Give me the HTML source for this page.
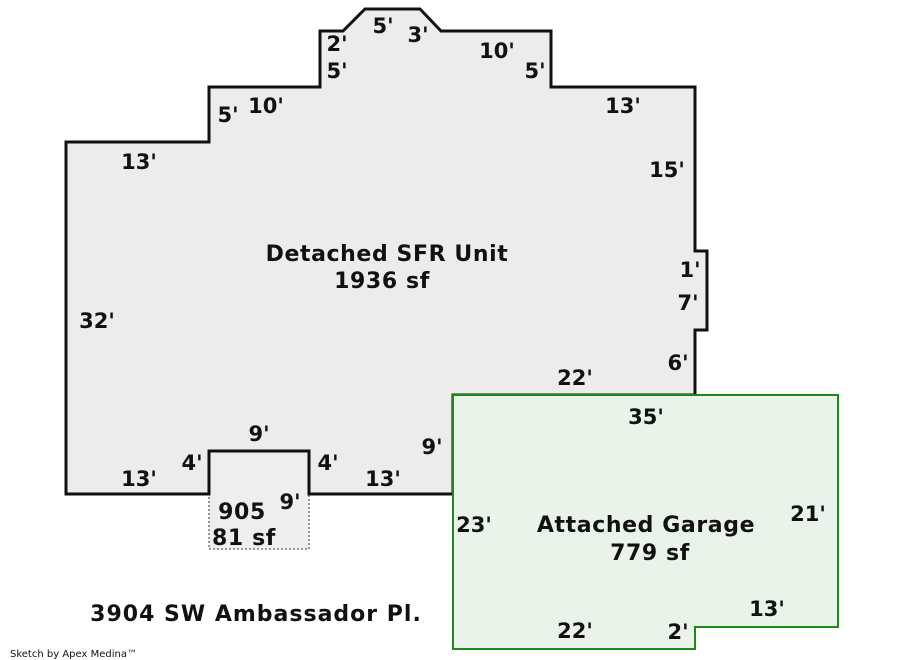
<!DOCTYPE html>
<html><head><meta charset="utf-8"><style>
html,body{margin:0;padding:0;background:#fff;}
svg{display:block}
text{font-family:"DejaVu Sans","Liberation Sans",sans-serif;font-weight:bold;font-size:21px;fill:#111;text-anchor:middle}
.big{font-size:22px;letter-spacing:0.6px}
</style></head><body>
<svg width="900" height="660" viewBox="0 0 900 660">
<rect x="209" y="451" width="100" height="98" fill="#eeeeee" stroke="#777" stroke-width="1.5" stroke-dasharray="2,2"/>
<polygon points="66,142 209,142 209,87 320,87 320,31 343,31 365,9 420,9 441,31 551,31 551,87 695,87 695,251 707,251 707,330 695,330 695,395 453,395 453,494 309,494 309,451 209,451 209,494 66,494" fill="#ececec" stroke="#111" stroke-width="3"/>
<polygon points="453,395 838,395 838,627 695,627 695,649 453,649" fill="#eaf3ea" stroke="#1a8a1a" stroke-width="2"/>
<text class="big" x="387" y="261">Detached SFR Unit</text>
<text class="big" x="382" y="288">1936 sf</text>
<text class="big" x="646" y="532">Attached Garage</text>
<text class="big" x="650" y="560">779 sf</text>
<text class="big" x="242" y="519">905</text>
<text class="big" x="244" y="545">81 sf</text>
<text x="256" y="621" style="font-size:22px;letter-spacing:1px">3904 SW Ambassador Pl.</text>
<text x="10" y="657" style="font-size:10px;font-weight:normal;text-anchor:start">Sketch by Apex Medina™</text>
<text x="383" y="33">5'</text>
<text x="418" y="42">3'</text>
<text x="337" y="51">2'</text>
<text x="337" y="78">5'</text>
<text x="497" y="58">10'</text>
<text x="535" y="78">5'</text>
<text x="266" y="113">10'</text>
<text x="228" y="122">5'</text>
<text x="623" y="113">13'</text>
<text x="139" y="169">13'</text>
<text x="667" y="177">15'</text>
<text x="690" y="277">1'</text>
<text x="688" y="310">7'</text>
<text x="97" y="328">32'</text>
<text x="678" y="370">6'</text>
<text x="575" y="385">22'</text>
<text x="646" y="424">35'</text>
<text x="259" y="441">9'</text>
<text x="432" y="454">9'</text>
<text x="192" y="470">4'</text>
<text x="328" y="470">4'</text>
<text x="139" y="486">13'</text>
<text x="383" y="486">13'</text>
<text x="290" y="509">9'</text>
<text x="474" y="532">23'</text>
<text x="808" y="521">21'</text>
<text x="767" y="616">13'</text>
<text x="575" y="638">22'</text>
<text x="678" y="639">2'</text>
</svg>
</body></html>
